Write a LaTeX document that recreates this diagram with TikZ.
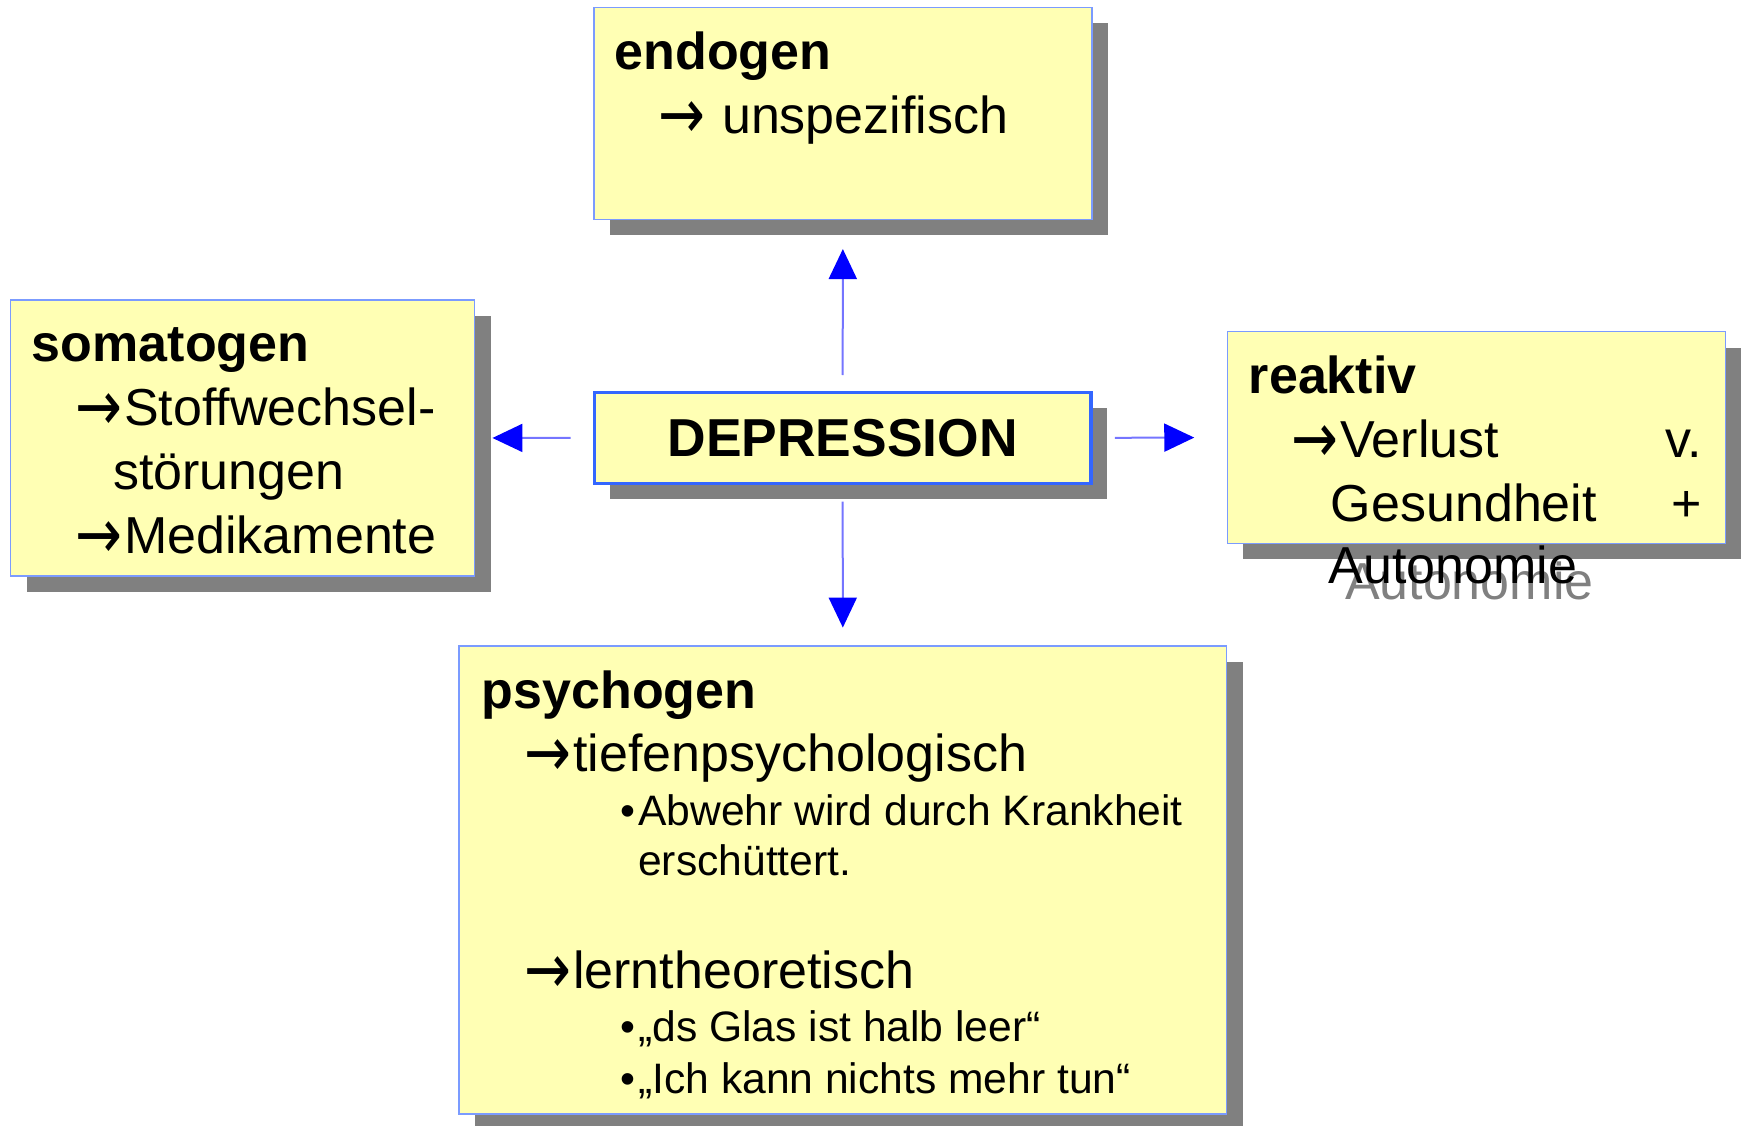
\documentclass[tikz,border=0pt]{standalone}
\usepackage{fontspec}
\setmainfont{Liberation Sans}
\newfontfamily\arrowfont{DejaVu Sans}
\usetikzlibrary{arrows.meta,shadows}
\definecolor{boxyellow}{HTML}{FFFFB4}
\definecolor{thinblue}{HTML}{7B9BFF}
\definecolor{depblue}{HTML}{3366FF}
\definecolor{lineblue}{HTML}{7575FF}
\definecolor{headblue}{HTML}{0000FF}
\definecolor{shadowgray}{HTML}{808080}
\newcommand\bigsz{\fontsize{52}{64}\selectfont}
\newcommand\smallsz{\fontsize{42.6}{50}\selectfont}
\newcommand\rarr{\makebox[49pt][l]{\raisebox{-5pt}{\scalebox{1.0}[1.25]{\arrowfont\fontsize{56}{64}\selectfont →}}}}
\tikzset{
  boxshadow/.style={drop shadow={shadow xshift=16pt,shadow yshift=-16pt,fill=shadowgray,opacity=1}},
  box/.style={draw=thinblue, line width=1.5pt, fill=boxyellow, boxshadow, inner sep=0pt},
  depbox/.style={draw=depblue, line width=3.3pt, fill=boxyellow, boxshadow, inner sep=0pt, font=\fontsize{53.4}{64}\selectfont\bfseries},
  txt/.style={anchor=base west, inner sep=0pt, font=\bigsz},
  head/.style={anchor=base west, inner sep=0pt, font=\bigsz\bfseries},
  sml/.style={anchor=base west, inner sep=0pt, font=\smallsz},
  conn/.style={draw=lineblue, line width=2pt, -{Triangle[length=30pt,width=28pt,color=headblue]}}
}
\begin{document}
\begin{tikzpicture}[x=1pt,y=-1pt]
\useasboundingbox (0,0) rectangle (1749,1126);
% boxes
\node[box, minimum width=498pt, minimum height=212pt] (endo) at (842.9,113.3) {};
\node[box, minimum width=464pt, minimum height=276pt] (soma) at (242.7,438) {};
\node[box, minimum width=498pt, minimum height=211.6pt] (reak) at (1476.4,437.5) {};
\node[box, minimum width=767.3pt, minimum height=468pt] (psy) at (842.85,880) {};
\node[depbox, minimum width=496.7pt, minimum height=91pt] (dep) at (842.65,437.85) {DEPRESSION};
% connectors
\draw[conn, shorten <=15.7pt, shorten >=29pt] (dep.north) -- (endo.south);
\draw[conn, shorten <=16.7pt, shorten >=17.7pt] (dep.south) -- (psy.north);
\draw[conn, shorten <=22pt, shorten >=17pt] (dep.west) -- (soma.east);
\draw[conn, shorten <=22.3pt, shorten >=32.4pt] (dep.east) -- (reak.west);
% endogen
\node[head] (t-endo) at (614.4,70) {endogen};
\node[txt] (t-endo1) at (658.5,133.3) {\rarr\ unspezifisch};
% somatogen
\node[head] (t-soma) at (31.7,361.7) {somatogen};
\node[txt] (t-soma1) at (75,425) {\rarr Stoffwechsel-};
\node[txt] (t-soma2) at (113,489) {störungen};
\node[txt] (t-soma3) at (75,553) {\rarr Medikamente};
% reaktiv
\node[head] (t-reak) at (1248.7,393.3) {reaktiv};
\node[txt] (t-reak1) at (1290.8,457.3) {\rarr Verlust};
\node[txt, anchor=base east] (t-reak1b) at (1702.5,457.3) {v.};
\node[txt] (t-reak2) at (1330.7,521) {Gesundheit};
\node[txt, anchor=base east] (t-reak2b) at (1702.5,521) {+};
\node[txt, text=shadowgray] (t-reak3s) at (1344.8,599.3) {Autonomie};
\node[txt] (t-reak3) at (1328.6,583.3) {Autonomie};
% psychogen
\node[head] (t-psy) at (481.6,708.3) {psychogen};
\node[txt] (t-psy1) at (524,771.7) {\rarr tiefenpsychologisch};
\node[sml] (b1) at (620,825) {•};
\node[sml] (t-psy2) at (638,825) {Abwehr wird durch Krankheit};
\node[sml] (t-psy3) at (638,875) {erschüttert.};
\node[txt] (t-psy4) at (524,988.3) {\rarr lerntheoretisch};
\node[sml] (b2) at (620,1041.7) {•};
\node[sml] (t-psy5) at (638,1041.7) {„ds Glas ist halb leer“};
\node[sml] (b3) at (620,1093.3) {•};
\node[sml] (t-psy6) at (638,1093.3) {„Ich kann nichts mehr tun“};
\end{tikzpicture}
\end{document}
